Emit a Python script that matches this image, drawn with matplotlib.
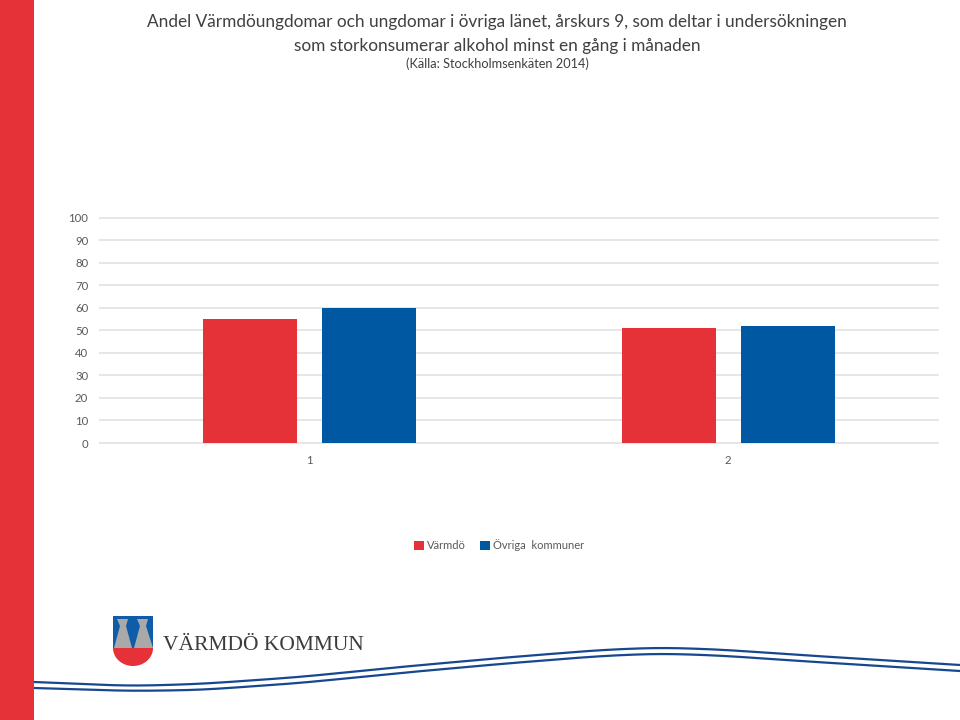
import matplotlib
matplotlib.use("Agg")
import matplotlib.pyplot as plt
from matplotlib.patches import Rectangle, Polygon
import numpy as np

plt.rcParams['font.family'] = ['Lato', 'DejaVu Sans']

categories = ['1', '2']
varmdo = [55, 51]
ovriga = [60, 52]
series_names = ['Värmdö', 'Övriga  kommuner']
yticks = list(range(0, 101, 10))
title_lines = ['Andel Värmdöungdomar och ungdomar i övriga länet, årskurs 9, som deltar i undersökningen',
               'som storkonsumerar alkohol minst en gång i månaden']
source_line = '(Källa: Stockholmsenkäten 2014)'

RED = '#E53238'
BLUE = '#0058A3'
W, H = 960, 720

fig = plt.figure(figsize=(9.6, 7.2), dpi=100, facecolor='white')

# full-figure pixel-coordinate overlay for slide decoration
bg = fig.add_axes([0, 0, 1, 1], zorder=0)
bg.set_xlim(0, W); bg.set_ylim(H, 0); bg.axis('off')
bg.add_patch(Rectangle((0, 0), 34, 720, color=RED, lw=0))

sx = [34, 130, 200, 300, 400, 500, 600, 660, 720, 800, 880, 960]
su = [682, 686, 684, 677, 667, 658, 650, 647.5, 649.5, 655, 660, 665]
sl = [688, 691, 690, 683, 673, 664, 656, 653.5, 655.5, 661, 666, 671]
xx = np.arange(34, 961)
# smooth the reading points for drawing
for s in (su, sl):
    yy = np.interp(xx, sx, s)
    n = 101
    k = np.hanning(n); k /= k.sum()
    # extend linearly beyond both ends so smoothing keeps the end values
    left = yy[0] + (yy[0] - yy[40]) * np.arange(n // 2, 0, -1) / 40
    right = yy[-1] + (yy[-1] - yy[-41]) * np.arange(1, n // 2 + 1) / 40
    ys = np.convolve(np.concatenate([left, yy, right]), k, mode='valid')
    bg.plot(xx, ys, color='#17478F', lw=1.6, solid_capstyle='butt')

# coat of arms
bg.add_patch(Polygon([(113, 616), (153, 616), (153, 649), (113, 649)], color='#0F5DA8', lw=0))
t = np.linspace(0, np.pi, 40)
arc = [(133 + 20 * np.cos(a), 648 + 18 * np.sin(a)) for a in t]
bg.add_patch(Polygon(arc, color=RED, lw=0))
bg.add_patch(Polygon([(114, 648), (120, 626), (117, 619), (128, 619), (126, 626), (132, 648)], color='#A9A9A9', lw=0))
bg.add_patch(Polygon([(134, 648), (140, 626), (137, 619), (148, 619), (146, 626), (153, 648)], color='#A9A9A9', lw=0))
bg.text(163, 649.5, 'VÄRMDÖ KOMMUN', family='Liberation Serif', fontsize=15.5, color='#3C3C3C',
        ha='left', va='baseline')

ax = fig.add_axes([100 / W, 1 - 443 / H, (937.5 - 100) / W, (443 - 217.5) / H], zorder=1)
ax.patch.set_alpha(0)
x = np.arange(len(categories))
bw, off = 0.2246, 0.1422
ax.bar(x - off, varmdo, bw, color=RED, zorder=3, label=series_names[0])
ax.bar(x + off, ovriga, bw, color=BLUE, zorder=3, label=series_names[1])
ax.set_xlim(-0.5, 1.5)
ax.set_ylim(0, 100)
ax.set_yticks(yticks)
ax.set_xticks(x, categories)
ax.grid(axis='y', color='#E6E6E6', lw=1.4, zorder=0)
ax.set_axisbelow(True)
for s in ax.spines.values():
    s.set_visible(False)
ax.tick_params(axis='both', length=0, labelsize=8.2, labelcolor='#595959')
ax.tick_params(axis='y', pad=8.5)
ax.tick_params(axis='x', pad=8.5)
for g in ax.get_ygridlines():
    g.set_clip_on(False)

fig.text(497 / W, 1 - 22.5 / H, title_lines[0], ha='center', va='center', fontsize=12.4, color='#404040')
fig.text(497 / W, 1 - 45.5 / H, title_lines[1], ha='center', va='center', fontsize=12.4, color='#404040')
fig.text(497 / W, 1 - 64 / H, source_line, ha='center', va='center', fontsize=9.2, color='#404040')

leg = ax.legend(loc='center', bbox_to_anchor=(499 / W, 1 - 545 / H), bbox_transform=fig.transFigure,
                ncol=2, frameon=False, fontsize=8.0, handlelength=0.9, handleheight=0.9,
                handletextpad=0.3, columnspacing=1.2, labelcolor='#595959')

fig.savefig('out.png', dpi=100)
